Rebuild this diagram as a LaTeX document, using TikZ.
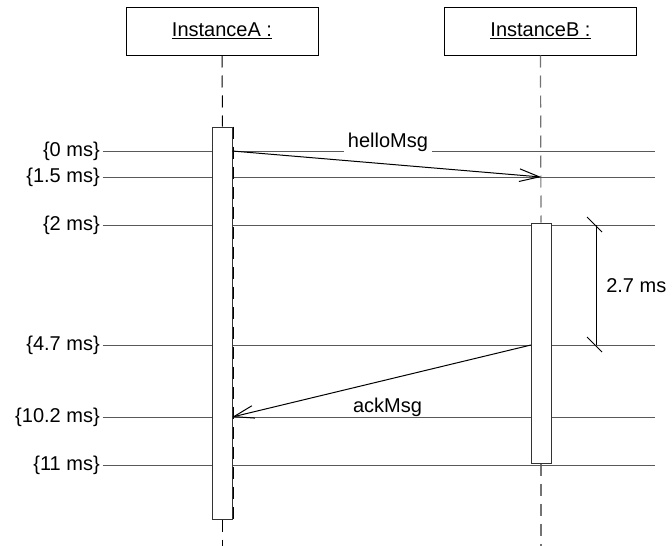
\documentclass[tikz,border=0pt]{standalone}
\usepackage{fontspec}
\setmainfont{Liberation Sans}
\usetikzlibrary{arrows.meta}
\begin{document}
\begin{tikzpicture}[x=0.75pt,y=-0.75pt,
  every node/.style={font=\fontsize{15}{17}\selectfont},
  inst/.style={draw=black,line width=0.75pt,fill=white,minimum width=144pt,minimum height=36pt,inner sep=0pt},
  act/.style={draw=black!80,line width=0.75pt,fill=white,minimum width=15pt,inner sep=0pt},
  lifeA/.style={draw=black,line width=0.75pt,dash pattern=on 9pt off 6pt},
  lifeB/.style={draw=black!55,line width=0.9pt,dash pattern=on 9pt off 6pt},
  tline/.style={draw=black!65,line width=0.75pt},
  tlabel/.style={anchor=east,inner sep=0pt},
  msg/.style={draw=black,line width=0.75pt,-{Straight Barb[length=15pt,width=9.5pt,line width=0.75pt]}},
  dur/.style={draw=black,line width=0.75pt}]
\path[use as bounding box] (0,0) rectangle (672,546);

% instances
\node[inst] (A) at (222,31) {\underline{InstanceA :}};
\node[inst] (B) at (540.5,31) {\underline{InstanceB :}};

% activations (placeholders for geometry)
\path (222.5,323) node[act,draw=none,fill=none,minimum height=294pt] (actA) {};
\path (541,343) node[act,draw=none,fill=none,minimum height=180pt] (actB) {};

\coordinate (Aend) at (222.5,546);
\coordinate (Bend) at (541,546);

% lifelines
\draw[lifeA] (A.south) -- (actA.north);
\draw[lifeA] (actA.south) -- (Aend);
\draw[lifeB] (B.south) -- (actB.north);
\draw[lifeB] (actB.south) -- (Bend);

% time lines
\foreach \n/\yy/\t in {t0/151/0 ms, t1/177/1.5 ms, t2/225/2 ms, t3/345/4.7 ms, t4/417/10.2 ms, t5/465/11 ms}{
  \node[tlabel] (\n) at (100,\yy) {\{\t\}};
  \coordinate (\n r) at (655,\yy);
  \draw[tline,shorten <=2pt] (\n.east) -- (\n r);
}

% activation boxes
\node[act,minimum height=294pt] (actAbox) at (222.5,323) {};
\node[act,minimum height=180pt] (actBbox) at (541,343) {};
\draw[lifeA] (actAbox.north east) -- (actAbox.south east);

% helloMsg
\node[fill=white,inner xsep=3pt,inner ysep=2pt,anchor=base] (hm) at (388,147) {helloMsg};
\coordinate (hs) at (232.3,151);
\coordinate (he) at (541,177);
\draw[msg] (hs) -- (he);

% ackMsg
\node[inner sep=0pt,anchor=base] (am) at (387.5,412) {ackMsg};
\coordinate (as) at (531,345);
\coordinate (ae) at (232.3,417);
\draw[msg] (as) -- (ae);

% duration
\coordinate (d1) at (596,225);
\coordinate (d2) at (596,345);
\draw[dur] (d1) -- (d2);
\draw[dur] ([shift={(-9,-8)}]d1) -- ([shift={(6,7)}]d1);
\draw[dur] ([shift={(-9,-8)}]d2) -- ([shift={(6,7)}]d2);
\node[anchor=west,inner sep=0pt] (dl) at (606,286) {2.7 ms};
\end{tikzpicture}
\end{document}
